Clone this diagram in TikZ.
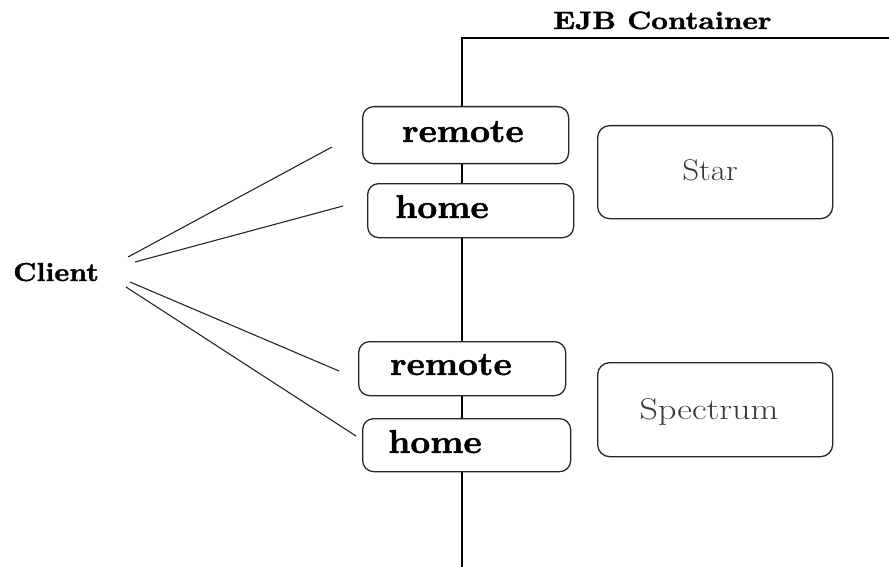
\documentclass[tikz,border=0pt]{standalone}
\usepackage{fontspec}
\usepackage{graphicx}
\newfontface\heavyfont{lmroman10-bold}[Extension=.otf, FakeBold=1.4]
\begin{document}
\begin{tikzpicture}[x=1pt,y=-1pt,
  iface/.style={draw=black!85, line width=1.3pt, rounded corners=11pt, fill=white, inner sep=0pt, anchor=north west},
  bean/.style={draw=black!85, line width=1.3pt, rounded corners=12pt, fill=white, inner sep=0pt, anchor=north west},
  boldlbl/.style={anchor=base west, inner sep=0pt, font=\heavyfont\fontsize{33}{33}\selectfont},
  beanlbl/.style={anchor=base, inner sep=0pt, text=black!78, font=\fontsize{30}{30}\selectfont},
  wire/.style={draw=black!85, line width=1.1pt},
  frame/.style={draw=black, line width=1.3pt}
]
\useasboundingbox (0,0) rectangle (889,567);
% container frame
\coordinate (ctop) at (462,38);
\coordinate (cbot) at (462,567);
\coordinate (cright) at (889,38);
\draw[frame] (cbot) -- (ctop) -- (cright);
\node[anchor=base west, inner sep=0pt, font=\heavyfont\fontsize{25}{25}\selectfont] (ejb) at (553,29) {\scalebox{1.16}[1]{EJB Container}};

% interface boxes
\node[iface, minimum width=206pt, minimum height=57pt] (r1) at (362,106) {};
\node[iface, minimum width=206pt, minimum height=54pt] (h1) at (367,183) {};
\node[iface, minimum width=207pt, minimum height=54pt] (r2) at (358,341) {};
\node[iface, minimum width=208pt, minimum height=53pt] (h2) at (362,418) {};
\node[boldlbl] (r1t) at (402,142) {\scalebox{1.05}[1]{remote}};
\node[boldlbl] (h1t) at (395,218) {\scalebox{1.05}[1]{home}};
\node[boldlbl] (r2t) at (390,375) {\scalebox{1.05}[1]{remote}};
\node[boldlbl] (h2t) at (388,453) {\scalebox{1.05}[1]{home}};

% beans
\node[bean, minimum width=235pt, minimum height=93pt] (star) at (597,125) {};
\node[bean, minimum width=235pt, minimum height=94pt] (spec) at (597,362) {};
\node[beanlbl] (start) at (710,180) {\scalebox{1.1}[1]{Star}};
\node[beanlbl] (spect) at (709,419) {\scalebox{1.2}[1]{Spectrum}};

% client
\node[anchor=base west, inner sep=0pt, font=\heavyfont\fontsize{26}{26}\selectfont] (client) at (13,281) {\scalebox{1.08}[1]{Client}};

% connectors
\coordinate (s1) at (128,257); \coordinate (e1) at (332,147);
\coordinate (s2) at (135,262); \coordinate (e2) at (343,206);
\coordinate (s3) at (130,282); \coordinate (e3) at (339,371);
\coordinate (s4) at (126,287); \coordinate (e4) at (356,436);
\draw[wire] (s1) -- (e1);
\draw[wire] (s2) -- (e2);
\draw[wire] (s3) -- (e3);
\draw[wire] (s4) -- (e4);
\end{tikzpicture}
\end{document}
